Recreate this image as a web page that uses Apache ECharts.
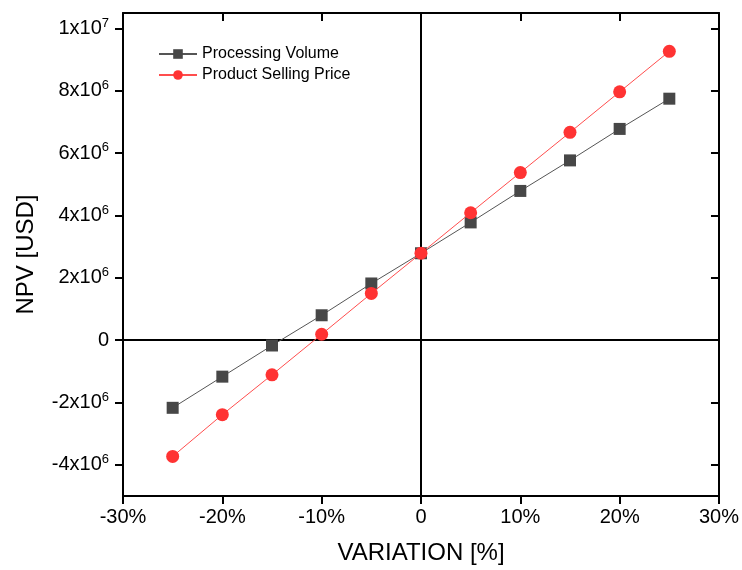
<!DOCTYPE html>
<html>
<head>
<meta charset="utf-8">
<script src="https://cdn.jsdelivr.net/npm/echarts@6/dist/echarts.min.js"></script>
<style>
  html, body { margin: 0; padding: 0; background: #fff; }
  #chart { width: 742px; height: 570px; }
</style>
</head>
<body>
<div id="chart"></div>
<script>
// variation in percent
const variation = [-25, -20, -15, -10, -5, 0, 5, 10, 15, 20, 25];
// NPV in USD
const processingVolume = [-2.17e6, -1.17e6, -0.17e6, 0.80e6, 1.82e6, 2.79e6, 3.78e6, 4.79e6, 5.77e6, 6.78e6, 7.75e6];
const sellingPrice = [-3.73e6, -2.39e6, -1.11e6, 0.19e6, 1.50e6, 2.79e6, 4.09e6, 5.38e6, 6.67e6, 7.97e6, 9.27e6];
const yTicks = [-4e6, -2e6, 0, 2e6, 4e6, 6e6, 8e6, 1e7];
const zeroLines = [{ xAxis: 0 }, { yAxis: 0 }];

const font = '"Liberation Sans", Arial, sans-serif';

const chart = echarts.init(document.getElementById('chart'));

// 8000000 -> 8x10^6 as rich text
const sciLabel = (v) => {
  if (v === 0) return '0';
  const e = Math.floor(Math.log10(Math.abs(v)));
  const m = Math.round(v / Math.pow(10, e));
  return '{b|' + m + 'x10}{s|' + e + '}';
};

const option = {
  animation: false,
  textStyle: { fontFamily: font },
  grid: { left: 123, right: 22, top: 13, bottom: 74 },
  legend: {
    orient: 'vertical',
    left: 153,
    top: 41,
    itemWidth: 38,
    itemHeight: 12,
    itemGap: 5,
    textStyle: { fontFamily: font, fontSize: 16, color: '#000' },
    data: ['Processing Volume', 'Product Selling Price']
  },
  xAxis: [
    {
      type: 'value',
      min: -30,
      max: 30,
      interval: 10,
      name: 'VARIATION [%]',
      nameLocation: 'middle',
      nameGap: 45,
      nameTextStyle: { fontFamily: font, fontSize: 24, color: '#000' },
      axisLine: { onZero: false, lineStyle: { color: '#000', width: 2 } },
      axisTick: { inside: false, length: 8, lineStyle: { color: '#000', width: 2 } },
      axisLabel: {
        margin: 11,
        fontFamily: font,
        fontSize: 20,
        color: '#000',
        formatter: (v) => (v === 0 ? '0' : v + '%')
      },
      splitLine: { show: false }
    },
    {
      type: 'value',
      position: 'top',
      min: -30,
      max: 30,
      interval: 10,
      axisLine: { onZero: false, lineStyle: { color: '#000', width: 2 } },
      axisTick: { inside: true, length: 8, lineStyle: { color: '#000', width: 2 } },
      axisLabel: { show: false },
      splitLine: { show: false }
    }
  ],
  yAxis: [
    {
      type: 'value',
      min: -5e6,
      max: 1.05e7,
      name: 'NPV [USD]',
      nameLocation: 'middle',
      nameGap: 85,
      nameTextStyle: { fontFamily: font, fontSize: 24, color: '#000' },
      axisLine: { onZero: false, lineStyle: { color: '#000', width: 2 } },
      axisTick: { inside: false, length: 8, customValues: yTicks, lineStyle: { color: '#000', width: 2 } },
      axisLabel: {
        margin: 14,
        customValues: yTicks,
        fontFamily: font,
        fontSize: 20,
        color: '#000',
        formatter: sciLabel,
        rich: {
          b: { fontFamily: font, fontSize: 20, color: '#000' },
          s: { fontFamily: font, fontSize: 13, color: '#000', padding: [0, 0, 11, 0] }
        }
      },
      splitLine: { show: false }
    },
    {
      type: 'value',
      position: 'right',
      min: -5e6,
      max: 1.05e7,
      axisLine: { onZero: false, lineStyle: { color: '#000', width: 2 } },
      axisTick: { inside: true, length: 8, customValues: yTicks, lineStyle: { color: '#000', width: 2 } },
      axisLabel: { show: false },
      splitLine: { show: false }
    }
  ],
  series: [
    {
      name: 'Processing Volume',
      type: 'line',
      data: variation.map((x, i) => [x, processingVolume[i]]),
      symbol: 'rect',
      symbolSize: 12,
      z: 3,
      itemStyle: { color: '#474747' },
      lineStyle: { color: '#555', width: 1 },
      markLine: {
        silent: true,
        symbol: 'none',
        z: 1,
        label: { show: false },
        lineStyle: { color: '#000', width: 2, type: 'solid' },
        data: zeroLines
      }
    },
    {
      name: 'Product Selling Price',
      type: 'line',
      data: variation.map((x, i) => [x, sellingPrice[i]]),
      symbol: 'circle',
      symbolSize: 13,
      z: 4,
      itemStyle: { color: '#ff3333' },
      lineStyle: { color: '#ff4d4d', width: 1 }
    }
  ]
};

chart.setOption(option);
</script>
</body>
</html>
